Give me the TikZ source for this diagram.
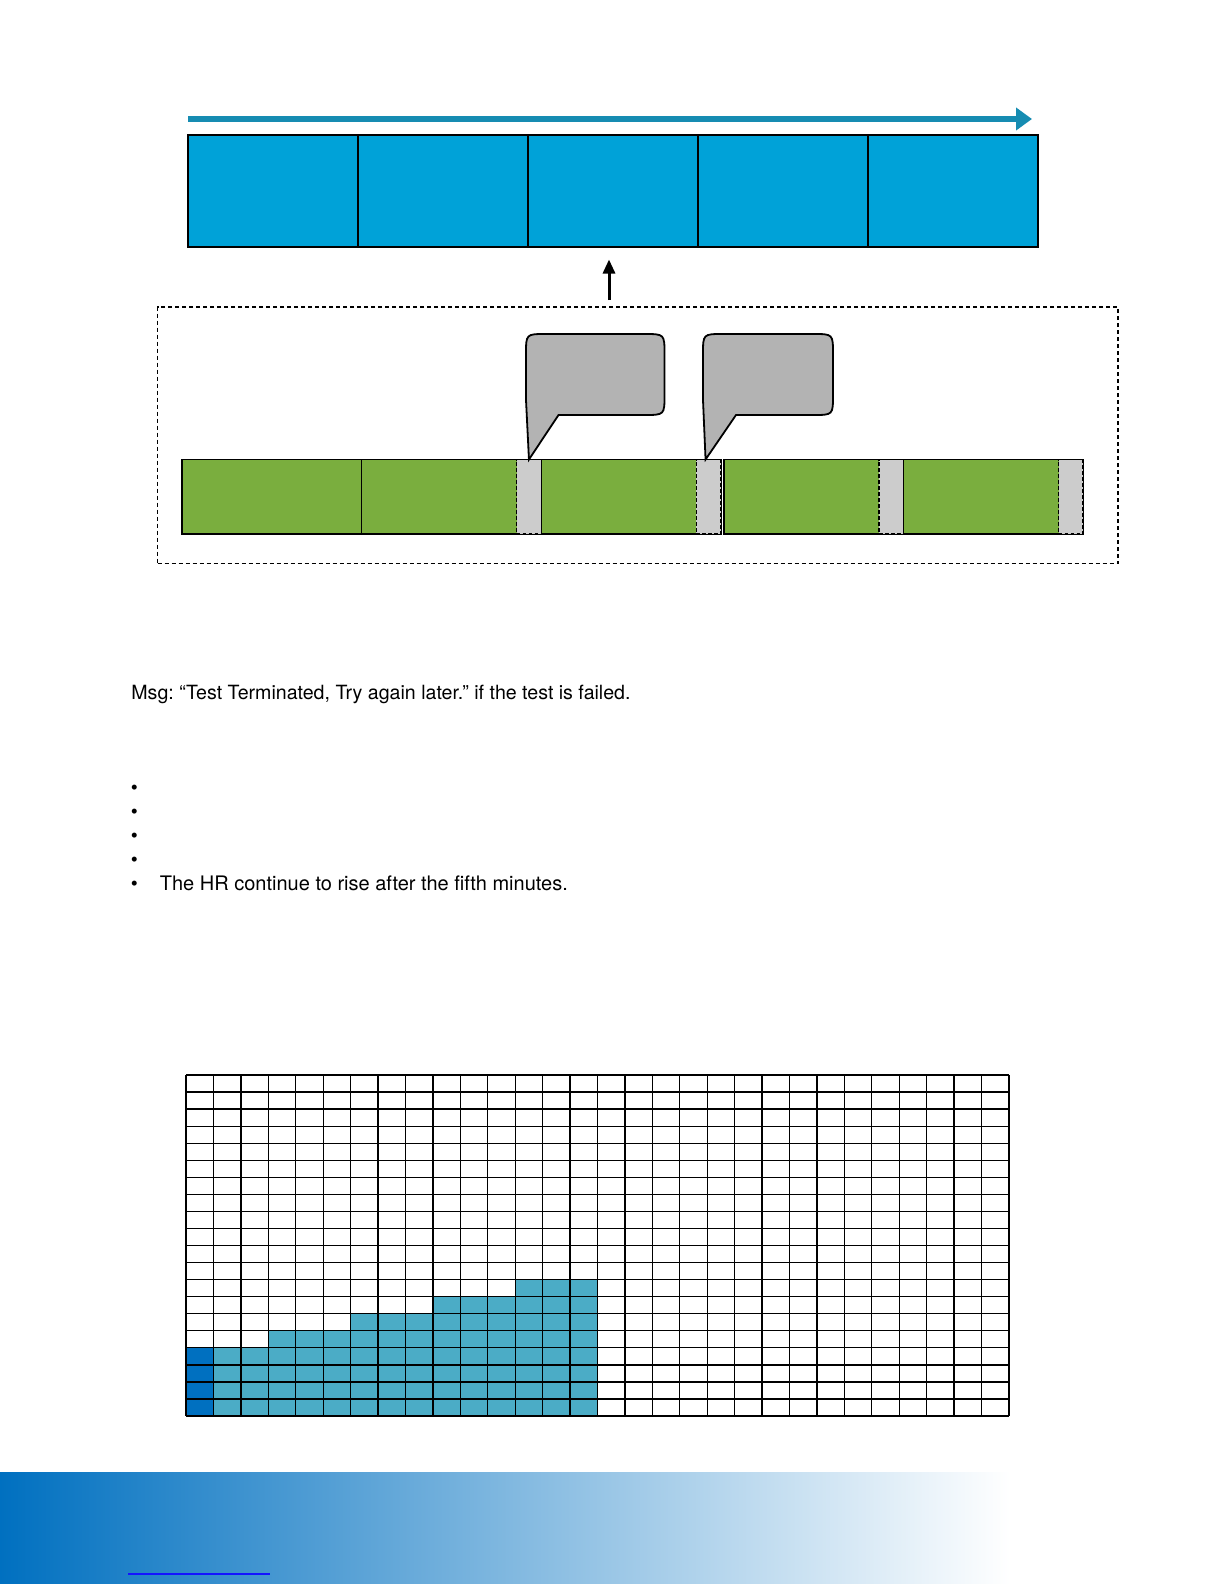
\documentclass[tikz,border=0pt]{standalone}
\usepackage{fontspec}
\setmainfont{TeX Gyre Heros}
\usetikzlibrary{positioning,arrows.meta,calc}
\frenchspacing

\definecolor{flowteal}{RGB}{22,140,178}
\definecolor{cellblue}{RGB}{0,162,216}
\definecolor{seggreen}{RGB}{122,174,62}
\definecolor{stripgray}{RGB}{204,204,204}
\definecolor{bubblegray}{RGB}{179,179,179}
\definecolor{barlight}{RGB}{75,172,198}
\definecolor{bardark}{RGB}{0,112,192}
\definecolor{linkblue}{RGB}{20,20,255}

\begin{document}
\begin{tikzpicture}[
  x=0.5pt, y=-0.5pt,
  node distance=0pt,
  bluecell/.style={draw, line width=1pt, fill=cellblue, minimum width=85pt,
                   minimum height=56pt, inner sep=0pt, outer sep=0pt},
  greenseg/.style={draw, line width=0.8pt, fill=seggreen, minimum width=89.8pt,
                   minimum height=37.25pt, inner sep=0pt, outer sep=0pt},
  strip/.style={draw, dash pattern=on 1.8pt off 1.2pt, line width=0.6pt, fill=stripgray,
                minimum width=12.25pt, minimum height=37.25pt, inner sep=0pt, outer sep=0pt},
  frame/.style={draw, dash pattern=on 2pt off 1.5pt, line width=0.7pt,
                minimum width=480.25pt, minimum height=128.25pt, inner sep=0pt, outer sep=0pt},
  bubble/.style={draw, line width=0.9pt, fill=bubblegray},
  arrow/.style={-{Triangle[length=7pt,width=6pt]}, line width=1.5pt},
  flow/.style={-{Triangle[length=8pt,width=11pt]}, line width=3pt, draw=flowteal},
  txt/.style={font=\fontsize{10}{12}\selectfont, inner sep=0pt, anchor=base west},
  gridline/.style={line width=0.65pt},
  foot/.style={left color=bardark, right color=white}
]
\useasboundingbox (0,0) rectangle (1224,1584);

% blue bar
\node[bluecell, anchor=north west] (c1) at (188,135) {};
\node[bluecell, right=of c1] (c2) {};
\node[bluecell, right=of c2] (c3) {};
\node[bluecell, right=of c3] (c4) {};
\node[bluecell, right=of c4] (c5) {};
\draw[flow] ([yshift=8pt]c1.north west) -- ([xshift=-3pt,yshift=8pt]c5.north east);

% window with segments
\node[frame, anchor=north west] (frame) at (157.5,307) {};
\node[greenseg, anchor=north west] (s1) at (182,459.5) {};
\node[greenseg, right=of s1] (s2) {};
\node[greenseg, right=of s2] (s3) {};
\node[greenseg, right=1.5pt of s3] (s4) {};
\node[greenseg, right=of s4] (s5) {};
\node[strip, anchor=north east] (g1) at (s2.north east) {};
\node[strip, anchor=north east] (g2) at (s3.north east) {};
\node[strip, anchor=north east] (g3) at (s4.north east) {};
\node[strip, anchor=north east] (g4) at (s5.north east) {};
\draw[arrow] ([xshift=-2pt,yshift=3.5pt]frame.north -| c3.south) -- ([xshift=-2pt,yshift=-6.25pt]c3.south);

% callouts
\draw[bubble] (g1.north) -- (526,400) -- (526,354) .. controls (526,334) .. (546,334)
  -- (644,334) .. controls (664.5,334) .. (664.5,354) -- (664.5,395)
  .. controls (664.5,415) .. (644,415) -- (558.5,415) -- cycle;
\draw[bubble] ([xshift=-1.5pt]g2.north) -- (703,400) -- (703,354) .. controls (703,334) .. (723,334)
  -- (813,334) .. controls (833,334) .. (833,354) -- (833,395)
  .. controls (833,415) .. (813,415) -- (736,415) -- cycle;

% text
\node[txt, font=\fontsize{9.8}{12}\selectfont] (msg) at (131,699) {Msg: “Test Terminated, Try again later.” if the test is failed.};
\foreach \i in {0,...,4}
  \node[txt] (b\i) at (130.5,794+24.15*\i) {\textbullet};
\node[txt] (hr) at (159.5,890.5) {The HR continue to rise after the fifth minutes.};

% chart
\fill[bardark] (186,1416) rectangle ++(27.433,-4*17.05);
\foreach \c/\h in {1/4,2/4,3/5,4/5,5/5,6/6,7/6,8/6,9/7,10/7,11/7,12/8,13/8,14/8}
  \fill[barlight] (186+27.433*\c,1416) rectangle ++(27.433,-\h*17.05);
\foreach \i in {0,...,30}
  \draw[gridline] (186+27.433*\i,1075) -- ++(0,341);
\foreach \j in {0,...,20}
  \draw[gridline] (186,1075+17.05*\j) -- ++(823,0);

% footer
\shade[foot] (0,1472) rectangle (1010,1584);
\draw[linkblue, line width=1pt] (128,1574) -- (270,1574);
\end{tikzpicture}
\end{document}
